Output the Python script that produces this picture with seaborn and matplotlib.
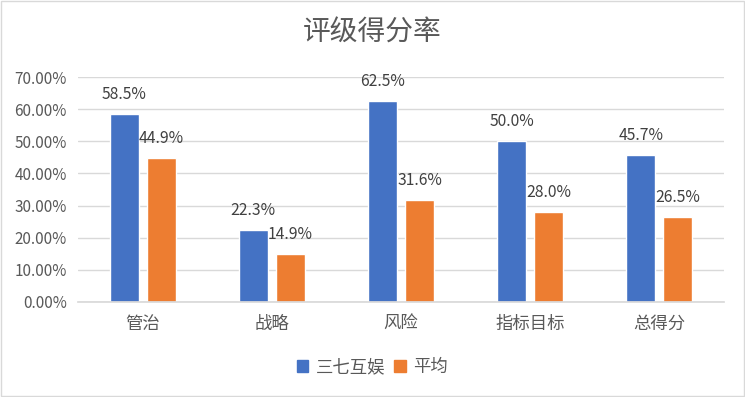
import pandas as pd
import matplotlib.pyplot as plt
import seaborn as sns
from matplotlib.ticker import PercentFormatter
from matplotlib.patches import Rectangle

categories = ['管治', '战略', '风险', '指标目标', '总得分']
company = [58.5, 22.3, 62.5, 50.0, 45.7]
average = [44.9, 14.9, 31.6, 28.0, 26.5]
series_names = ['三七互娱', '平均']

df = pd.DataFrame({
    '类别': categories * 2,
    '得分率': company + average,
    '系列': [series_names[0]] * 5 + [series_names[1]] * 5,
})

sns.set_theme(style='white')
plt.rcParams['font.family'] = ['Noto Sans CJK SC', 'DejaVu Sans']

fig = plt.figure(figsize=(7.45, 3.97), dpi=100)
ax = fig.add_axes([78 / 745, 1 - 302 / 397, 646 / 745, 225 / 397])

sns.barplot(data=df, x='类别', y='得分率', hue='系列',
            palette=['#4472C4', '#ED7D31'], width=0.574, gap=0.216,
            saturation=1, ax=ax, legend=False)

for cont in ax.containers:
    ax.bar_label(cont, fmt='%.1f%%', padding=8, fontsize=11.3, color='#404040')

ax.set_ylim(0, 70)
ax.set_yticks(range(0, 71, 10))
ax.yaxis.set_major_formatter(PercentFormatter(decimals=2))
ax.grid(axis='y', color='#D9D9D9', linewidth=1)
ax.set_axisbelow(True)
for s in ['top', 'right', 'left']:
    ax.spines[s].set_visible(False)
ax.spines['bottom'].set_color('#D9D9D9')
ax.tick_params(axis='y', length=0, labelsize=11, labelcolor='#595959', pad=8)
ax.tick_params(axis='x', length=0, labelsize=12.5, labelcolor='#595959', pad=9)
ax.set_xlabel('')
ax.set_ylabel('')

fig.text(0.5, 1 - 33 / 397, '评级得分率', ha='center', va='center',
         fontsize=20, color='#595959')

handles = [Rectangle((0, 0), 1, 1, color=c) for c in ['#4472C4', '#ED7D31']]
fig.legend(handles, series_names, loc='center', bbox_to_anchor=(0.5, 1 - 367 / 397),
           ncol=2, frameon=False, fontsize=12.5, handlelength=0.65, handleheight=0.65,
           columnspacing=0.5, handletextpad=0.45, labelcolor='#595959')

fig.patches.append(Rectangle((0.001, 0.002), 0.997, 0.995, transform=fig.transFigure,
                             fill=False, edgecolor='#D9D9D9', linewidth=1))

fig.savefig('out.png', dpi=100)
